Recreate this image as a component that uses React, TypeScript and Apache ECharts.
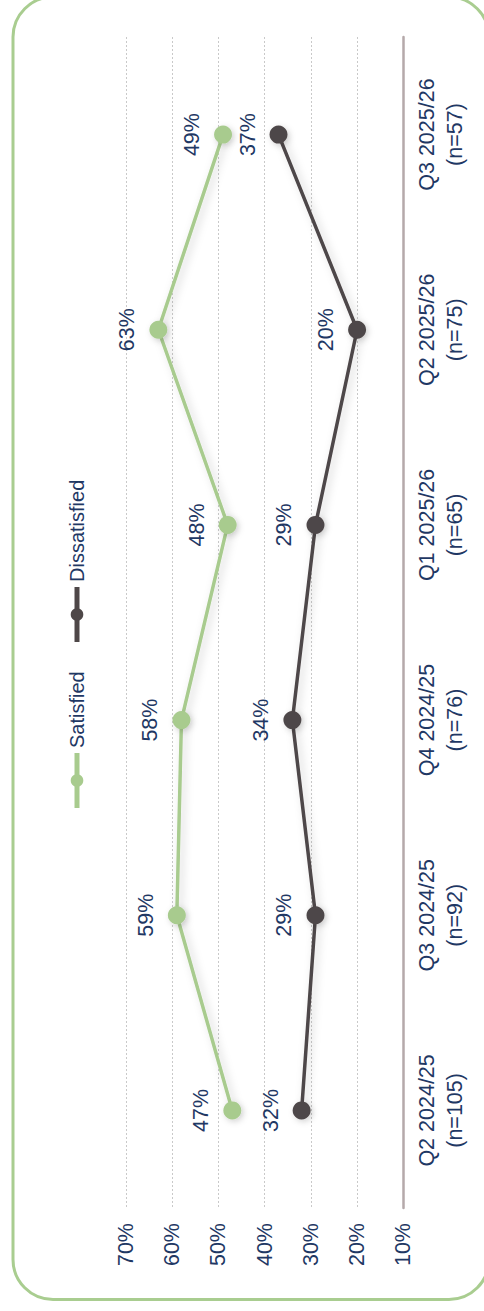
import React, { useEffect, useRef } from "react";
import * as echarts from "echarts";

// Survey waves (category axis) with respondent counts
const categories = [
  "Q2 2024/25\n(n=105)",
  "Q3 2024/25\n(n=92)",
  "Q4 2024/25\n(n=76)",
  "Q1 2025/26\n(n=65)",
  "Q2 2025/26\n(n=75)",
  "Q3 2025/26\n(n=57)",
];

// Share of respondents, in percent
const satisfied = [47, 59, 58, 48, 63, 49];
const dissatisfied = [32, 29, 34, 29, 20, 37];

// Value axis range and step
const axisMin = 10;
const axisMax = 70;
const axisStep = 10;

const seriesNames = ["Satisfied", "Dissatisfied"];
const GREEN = "#a8cb8e";
const DARK = "#4e4748";
const NAVY = "#1f3864";
const FONT = "Arial, 'Liberation Sans', sans-serif";
const LABEL_SIZE = 21.5;

export default function App() {
  const ref = useRef<HTMLDivElement>(null);

  useEffect(() => {
    if (!ref.current) return;
    const chart = echarts.init(ref.current, undefined, { renderer: "svg" });

    const makeSeries = (name: string, values: number[], color: string) => ({
      name,
      type: "line",
      data: values.map((v, i) => [v, categories[i]]),
      symbol: "circle",
      symbolSize: 18,
      lineStyle: {
        color,
        width: 3.5,
        shadowColor: "rgba(0,0,0,0.18)",
        shadowBlur: 9,
        shadowOffsetX: 3,
        shadowOffsetY: 2,
      },
      itemStyle: {
        color,
        shadowColor: "rgba(0,0,0,0.18)",
        shadowBlur: 6,
        shadowOffsetX: 2,
        shadowOffsetY: 2,
      },
      label: {
        show: true,
        position: "left",
        distance: 22,
        rotate: 90,
        align: "center",
        verticalAlign: "middle",
        color: NAVY,
        fontSize: LABEL_SIZE,
        fontFamily: FONT,
        formatter: (p: any) => `${p.value[0]}%`,
      },
      emphasis: { disabled: true },
    });

    // Legend entry: line-with-dot icon followed by its name, turned to read upward
    const legendItem = (offset: number, color: string, name: string) => [
      {
        type: "line",
        shape: { x1: offset, y1: 0, x2: offset + 55, y2: 0 },
        style: { stroke: color, lineWidth: 5 },
      },
      {
        type: "circle",
        shape: { cx: offset + 27.5, cy: 0, r: 6.3 },
        style: { fill: color },
      },
      {
        type: "text",
        x: offset + 60,
        y: 0,
        style: {
          text: name,
          fill: NAVY,
          fontSize: 20,
          fontFamily: FONT,
          align: "left",
          verticalAlign: "middle",
        },
      },
    ];

    chart.setOption({
      animation: false,
      backgroundColor: "#ffffff",
      grid: { left: 126, right: 80.7, top: 37, bottom: 103, containLabel: false },
      xAxis: {
        type: "value",
        inverse: true,
        min: axisMin,
        max: axisMax,
        interval: axisStep,
        position: "bottom",
        axisLine: { show: false },
        axisTick: { show: false },
        splitLine: {
          show: true,
          lineStyle: { color: "#c9c9c9", width: 1, type: [2, 2] },
        },
        axisLabel: {
          rotate: 90,
          margin: 15,
          color: NAVY,
          fontSize: LABEL_SIZE,
          fontFamily: FONT,
          showMinLabel: true,
          showMaxLabel: true,
          formatter: (v: number) => `${v}%`,
        },
      },
      yAxis: {
        type: "category",
        data: categories,
        position: "right",
        boundaryGap: true,
        axisLine: { show: true, lineStyle: { color: "#b5a9aa", width: 2.5 } },
        axisTick: { show: false },
        splitLine: { show: false },
        axisLabel: {
          interval: 0,
          rotate: 90,
          margin: 10,
          lineHeight: 28,
          color: NAVY,
          fontSize: LABEL_SIZE,
          fontFamily: FONT,
        },
      },
      series: [
        makeSeries(seriesNames[0], satisfied, GREEN),
        makeSeries(seriesNames[1], dissatisfied, DARK),
      ],
      graphic: [
        {
          type: "rect",
          shape: { x: 13, y: -3, width: 476, height: 1302.5, r: 40 },
          style: { fill: "none", stroke: "#a9cd90", lineWidth: 3 },
          silent: true,
        },
        {
          type: "group",
          x: 77,
          y: 808,
          rotation: Math.PI / 2,
          silent: true,
          children: [
            ...legendItem(0, GREEN, seriesNames[0]),
            ...legendItem(166, DARK, seriesNames[1]),
          ],
        },
      ],
    });

    return () => chart.dispose();
  }, []);

  return (
    <div
      ref={ref}
      style={{ position: "absolute", left: 0, top: 0, width: 484, height: 1311 }}
    />
  );
}
